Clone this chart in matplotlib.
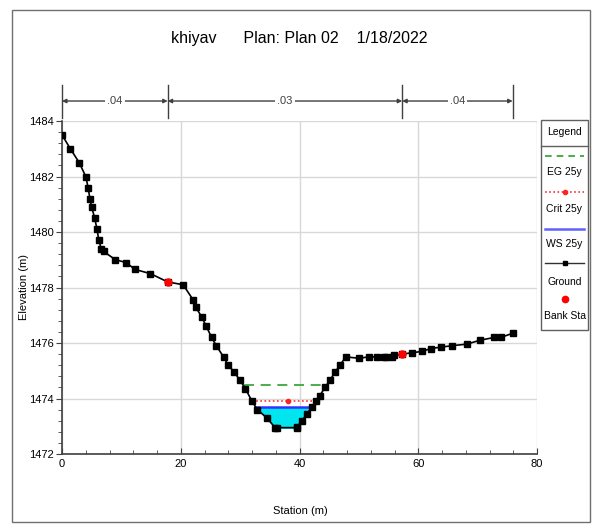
import matplotlib
matplotlib.use("Agg")
import matplotlib.pyplot as plt
import numpy as np
from matplotlib.patches import Rectangle
from matplotlib.lines import Line2D

FONT = ['Liberation Sans', 'DejaVu Sans']
plt.rcParams['font.family'] = FONT

title = "khiyav      Plan: Plan 02    1/18/2022"

station = [0.0, 1.4, 2.9, 4.0, 4.4, 4.7, 5.0, 5.5, 5.9, 6.2, 6.6, 7.0, 9.0, 10.8, 12.3, 14.9,
           17.8, 20.4, 22.1, 22.5, 23.5, 24.3, 25.2, 26.0, 27.2, 28.0, 29.0, 30.0, 30.9, 32.0,
           32.9, 34.5, 35.9, 36.2, 39.5, 39.6, 40.4, 41.3, 42.1, 42.8, 43.4, 44.3, 45.1, 46.0,
           46.8, 47.8, 50.0, 51.7, 53.0, 54.2, 54.5, 55.6, 55.9, 57.3, 59.0, 60.7, 62.1, 63.8,
           65.6, 68.2, 70.4, 72.8, 73.9, 75.9]
ground = [1483.5, 1483.0, 1482.5, 1482.0, 1481.6, 1481.2, 1480.9, 1480.5, 1480.1, 1479.7, 1479.4,
          1479.3, 1479.0, 1478.9, 1478.65, 1478.5, 1478.2, 1478.1, 1477.55, 1477.3, 1476.95,
          1476.6, 1476.2, 1475.9, 1475.5, 1475.2, 1474.95, 1474.65, 1474.35, 1473.9, 1473.6,
          1473.3, 1472.95, 1472.95, 1472.95, 1472.98, 1473.2, 1473.45, 1473.7, 1473.9, 1474.1,
          1474.4, 1474.65, 1474.95, 1475.2, 1475.5, 1475.45, 1475.5, 1475.5, 1475.5, 1475.5,
          1475.5, 1475.55, 1475.6, 1475.65, 1475.7, 1475.8, 1475.85, 1475.9, 1475.96, 1476.1,
          1476.2, 1476.2, 1476.35]

bank_sta = [17.8, 57.3]
bank_elev = [1478.2, 1475.6]

eg_x = [30.6, 44.4]
eg_y = 1474.5
crit_x = [32.0, 38.0, 42.9]
crit_y = 1473.9
ws_x = [32.5, 42.1]
ws_y = 1473.68

n_bounds = [0.0, 17.8, 57.3, 75.9]
n_values = ['.04', '.03', '.04']

x_ticks = [0, 20, 40, 60, 80]
y_ticks = [1472, 1474, 1476, 1478, 1480, 1482, 1484]

fig = plt.figure(figsize=(5.93, 5.24), dpi=100)
# outer frame
fig.patches.append(Rectangle((12/593, 2/524), 578/593, 512/524, transform=fig.transFigure,
                             fill=False, edgecolor='#707070', lw=1.0))

ax = fig.add_axes([62/593, 1-454/524, 475/593, 333/524])
ax.set_xlim(0, 80)
ax.set_ylim(1472, 1484)
ax.set_xticks(x_ticks)
ax.set_yticks(y_ticks)
ax.set_xticks(np.arange(0, 81, 4), minor=True)
ax.set_yticks(np.arange(1472, 1484.01, 0.4), minor=True)
ax.grid(True, which='major', color='#d8d8d8', lw=1.0)
ax.set_axisbelow(True)
for s in ['top', 'right']:
    ax.spines[s].set_visible(False)
for s in ['left', 'bottom']:
    ax.spines[s].set_color('#404040')
    ax.spines[s].set_linewidth(1.2)
ax.tick_params(which='both', direction='in', color='#404040', labelsize=8)
ax.tick_params(which='major', length=4)
ax.tick_params(which='minor', length=3)
ax.tick_params(axis='y', which='both', direction='out', pad=2)

# water fill
ws_arr = np.full(len(station), ws_y)
gr = np.array(ground)
st = np.array(station)
ax.fill_between(st, gr, ws_arr, where=(gr <= ws_y) & (st >= ws_x[0] - 1) & (st <= ws_x[1] + 1),
                interpolate=True, color='#00e5ee', zorder=2)
ax.plot(ws_x, [ws_y, ws_y], color='#3333ff', lw=1.8, zorder=3)
ax.plot(eg_x, [eg_y, eg_y], color='#2ca02c', lw=1.2, ls=(0, (6, 4)), zorder=3)
ax.plot(crit_x, [crit_y]*len(crit_x), color='#ff3030', lw=1.2, ls=(0, (1, 1.5)), zorder=3)
ax.plot(crit_x, [crit_y]*len(crit_x), ls='none', marker='o', ms=3, color='#ff2020', zorder=4)

ax.plot(station, ground, color='black', lw=1.2, marker='s', ms=4, zorder=5)
ax.plot(bank_sta, bank_elev, ls='none', marker='o', ms=5, color='#ff0000', zorder=6)

ax.set_xlabel('Station (m)', fontsize=8)
ax.set_ylabel('Elevation (m)', fontsize=8)
ax.xaxis.set_label_coords((300-62)/475, (454-506)/333)
ax.yaxis.set_label_coords((29-62)/475, 0.5)

# Manning's n dimension lines
y_dim = 1484.72
for xb in n_bounds:
    ax.plot([xb, xb], [1484.12, 1485.3], color='#404040', lw=1.0, clip_on=False)
for i, val in enumerate(n_values):
    a, b = n_bounds[i], n_bounds[i+1]
    ax.annotate('', xy=(a, y_dim), xytext=(b, y_dim), xycoords='data',
                arrowprops=dict(arrowstyle='<|-|>', color='#404040', lw=1.0,
                                mutation_scale=6, shrinkA=0, shrinkB=0),
                annotation_clip=False)
    ax.text((a+b)/2, y_dim, val, ha='center', va='center', fontsize=8, color='#404040',
            bbox=dict(facecolor='white', edgecolor='none', pad=1.5), clip_on=False)

fig.text(299/593, 1-38/524, title, ha='center', va='center', fontsize=11.5)

# legend
lx0, lx1 = 541/593, 588/593
fig.patches.append(Rectangle((lx0, 1-330/524), lx1-lx0, 210/524, transform=fig.transFigure,
                             fill=False, edgecolor='#606060', lw=1.0))
fig.lines.append(Line2D([lx0, lx1], [1-146/524]*2, transform=fig.transFigure, color='#606060', lw=1.0))
cx = (lx0+lx1)/2
fig.text(cx, 1-132/524, 'Legend', ha='center', va='center', fontsize=7.5)
lxa, lxb = 545/593, 584/593
fig.lines.append(Line2D([lxa, lxb], [1-156/524]*2, transform=fig.transFigure, color='#2ca02c', lw=1.2, ls=(0, (4, 3))))
fig.text(cx, 1-172/524, 'EG 25y', ha='center', va='center', fontsize=7.5)
fig.lines.append(Line2D([lxa, lxb], [1-192/524]*2, transform=fig.transFigure, color='#ff3030', lw=1.2, ls=(0, (1, 1.5))))
fig.lines.append(Line2D([cx], [1-192/524], transform=fig.transFigure, color='#ff2020', marker='o', ms=3))
fig.text(cx, 1-209/524, 'Crit 25y', ha='center', va='center', fontsize=7.5)
fig.lines.append(Line2D([lxa, lxb], [1-229/524]*2, transform=fig.transFigure, color='#6060ff', lw=1.8))
fig.text(cx, 1-244/524, 'WS 25y', ha='center', va='center', fontsize=7.5)
fig.lines.append(Line2D([lxa, lxb], [1-263/524]*2, transform=fig.transFigure, color='#303030', lw=1.0))
fig.lines.append(Line2D([cx], [1-263/524], transform=fig.transFigure, color='black', marker='s', ms=3.5))
fig.text(cx, 1-282/524, 'Ground', ha='center', va='center', fontsize=7.5)
fig.lines.append(Line2D([cx], [1-299/524], transform=fig.transFigure, color='#ff0000', marker='o', ms=4.5, ls='none'))
fig.text(cx, 1-316/524, 'Bank Sta', ha='center', va='center', fontsize=7.5)

fig.savefig('out.png', dpi=100)
